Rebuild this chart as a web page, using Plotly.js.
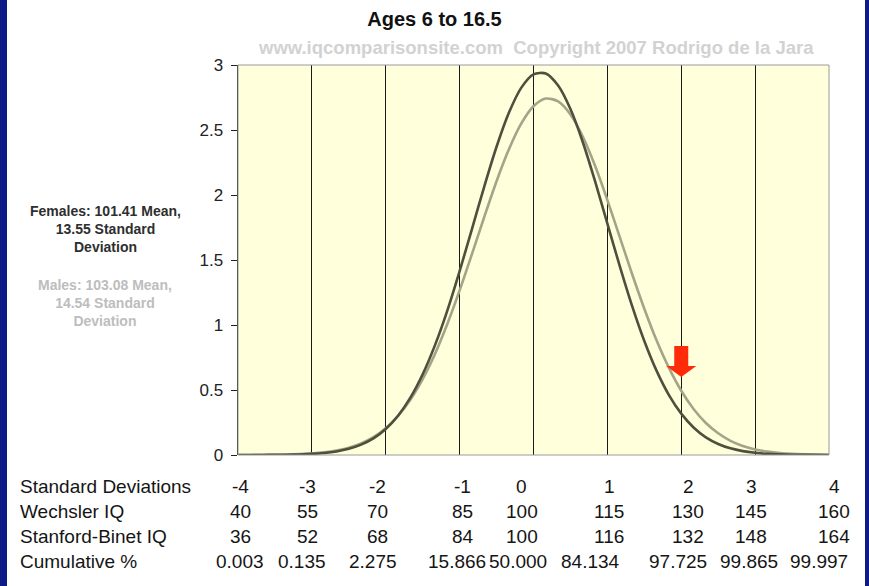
<!DOCTYPE html>
<html>
<head>
<meta charset="utf-8">
<script src="https://cdn.plot.ly/plotly-3.0.1.min.js"></script>
<style>
html,body{margin:0;padding:0;background:#ffffff;}
#chart{width:869px;height:586px;}
</style>
</head>
<body>
<div id="chart"></div>
<script>
// ---- Data ----
const iq = [40,42.5,45,47.5,50,52.5,55,57.5,60,62.5,65,67.5,70,72.5,75,77.5,80,82.5,85,87.5,90,92.5,95,97.5,100,
            102.5,105,107.5,110,112.5,115,117.5,120,122.5,125,127.5,130,132.5,135,137.5,140,142.5,145,147.5,150,152.5,155,157.5,160];
const females = [0.0001,0.0002,0.0005,0.0011,0.0022,0.0044,0.0084,0.0154,0.0276,0.048,0.080,0.128,0.200,0.302,0.441,0.621,0.845,1.111,1.415,1.738,2.065,2.371,2.632,2.824,2.928,
                 2.935,2.842,2.661,2.408,2.106,1.780,1.455,1.149,0.877,0.647,0.461,0.318,0.212,0.136,0.085,0.051,0.030,0.017,0.009,0.005,0.0024,0.0012,0.0006,0.0003];
const males   = [0.0002,0.0005,0.0009,0.0018,0.0035,0.0065,0.0116,0.020,0.034,0.056,0.089,0.137,0.206,0.301,0.425,0.584,0.778,1.008,1.266,1.545,1.831,2.106,2.351,2.549,2.683,
                 2.742,2.720,2.620,2.450,2.225,1.961,1.678,1.394,1.125,0.880,0.670,0.494,0.354,0.246,0.167,0.109,0.070,0.043,0.026,0.015,0.0085,0.005,0.0025,0.0013];

const columnIQ = [40,55,70,85,100,115,130,145,160];
const rowLabels = ["Standard Deviations","Wechsler IQ","Stanford-Binet IQ","Cumulative %"];
const sdRow = ["-4","-3","-2","-1","0","1","2","3","4"];
const wechslerRow = ["40","55","70","85","100","115","130","145","160"];
const binetRow = ["36","52","68","84","100","116","132","148","164"];
const cumulativeRow = ["0.003","0.135","2.275","15.866","50.000","84.134","97.725","99.865","99.997"];
const arrowIQ = 130, arrowY = 0.6;

// ---- Layout helpers (positions / styles) ----
const mainShift = [2,-4,-8,3,-12,2,7,-4,5];
const cumShift  = [2,-10,-13,-3,-16,-17,-3,-6,-10];
const rowY = [-0.082,-0.146,-0.210,-0.274];
const FONT = "Arial, 'Liberation Sans', sans-serif";

const traces = [
  {x: iq, y: males, type:'scatter', mode:'lines', line:{color:'#a3a488', width:2.6, shape:'spline', smoothing:0.8}, hoverinfo:'skip'},
  {x: iq, y: females, type:'scatter', mode:'lines', line:{color:'#4e4f3c', width:2.6, shape:'spline', smoothing:0.8}, hoverinfo:'skip'}
];

const annotations = [];
const rows = [sdRow, wechslerRow, binetRow, cumulativeRow];
rows.forEach((vals, r) => {
  annotations.push({xref:'paper', yref:'paper', x:-0.3723, y:rowY[r], xanchor:'left', yanchor:'middle',
    text: rowLabels[r], showarrow:false, font:{family:FONT, size:19, color:'#151515'}});
  vals.forEach((v, c) => {
    annotations.push({xref:'x', yref:'paper', x: columnIQ[c], y: rowY[r], xanchor:'center', yanchor:'middle',
      xshift: (r === 3 ? cumShift[c] : mainShift[c]),
      text: v, showarrow:false, font:{family:FONT, size:19, color:'#151515'}});
  });
});
annotations.push({xref:'paper', yref:'paper', x:-0.225, y:0.5795, xanchor:'center', yanchor:'middle', align:'center',
  text:'<b>Females: 101.41 Mean,<br>13.55 Standard<br>Deviation</b>', showarrow:false, font:{family:FONT, size:14, color:'#2e2e2e'}});
annotations.push({xref:'paper', yref:'paper', x:-0.225, y:0.3897, xanchor:'center', yanchor:'middle', align:'center',
  text:'<b>Males: 103.08 Mean,<br>14.54 Standard<br>Deviation</b>', showarrow:false, font:{family:FONT, size:14, color:'#bdbdbd'}});
annotations.push({xref:'paper', yref:'paper', x:0.505, y:1.046, xanchor:'center', yanchor:'middle',
  text:'<b>www.iqcomparisonsite.com  Copyright 2007 Rodrigo de la Jara</b>', showarrow:false, font:{family:FONT, size:18.5, color:'#d2d2d2'}});

const L = 238, W = 591;
const px = p => (p - L) / W;
const shapes = [
  {type:'rect', xref:'paper', yref:'paper', x0:0, x1:1, y0:0, y1:1, line:{color:'#9a9a9a', width:1}, fillcolor:'rgba(0,0,0,0)', layer:'above'},
  {type:'rect', xref:'paper', yref:'paper', x0:px(0), x1:px(7), y0:-2, y1:2, line:{width:0}, fillcolor:'#0d1b87'},
  {type:'rect', xref:'paper', yref:'paper', x0:px(865), x1:px(870), y0:-2, y1:2, line:{width:0}, fillcolor:'#0d1b87'},
  {type:'path', xref:'x', yref:'y', xsizemode:'pixel', ysizemode:'pixel', xanchor: arrowIQ, yanchor: arrowY,
   path:'M0,0 L-15,11 L-7,11 L-7,31 L7,31 L7,11 L15,11 Z', fillcolor:'#ff2a0a', line:{width:0}, layer:'above'}
];

const layout = {
  width:869, height:586,
  margin:{l:238, r:40, t:65, b:131},
  paper_bgcolor:'#ffffff', plot_bgcolor:'#ffffdc',
  showlegend:false,
  title:{text:'<b>Ages 6 to 16.5</b>', x:0.5, xref:'container', xanchor:'center', y:0.967, yref:'container', yanchor:'middle',
    font:{family:FONT, size:20, color:'#111'}},
  xaxis:{range:[40,160], tickvals:[55,70,85,100,115,130,145], showticklabels:false, ticks:'',
    showgrid:true, gridcolor:'#1a1a1a', gridwidth:1.2, zeroline:false, showline:false, fixedrange:true},
  yaxis:{range:[0,3], tickvals:[0,0.5,1,1.5,2,2.5,3], ticktext:['0','0.5','1','1.5','2','2.5','3'],
    ticks:'outside', ticklen:6, tickcolor:'#222', tickwidth:1, showgrid:false, zeroline:false,
    showline:true, linecolor:'#1a1a1a', linewidth:1.4, ticklabelstandoff:4,
    tickfont:{family:FONT, size:17, color:'#222'}, fixedrange:true},
  annotations: annotations,
  shapes: shapes
};

Plotly.newPlot('chart', traces, layout, {staticPlot:true, displayModeBar:false});
</script>
</body>
</html>
